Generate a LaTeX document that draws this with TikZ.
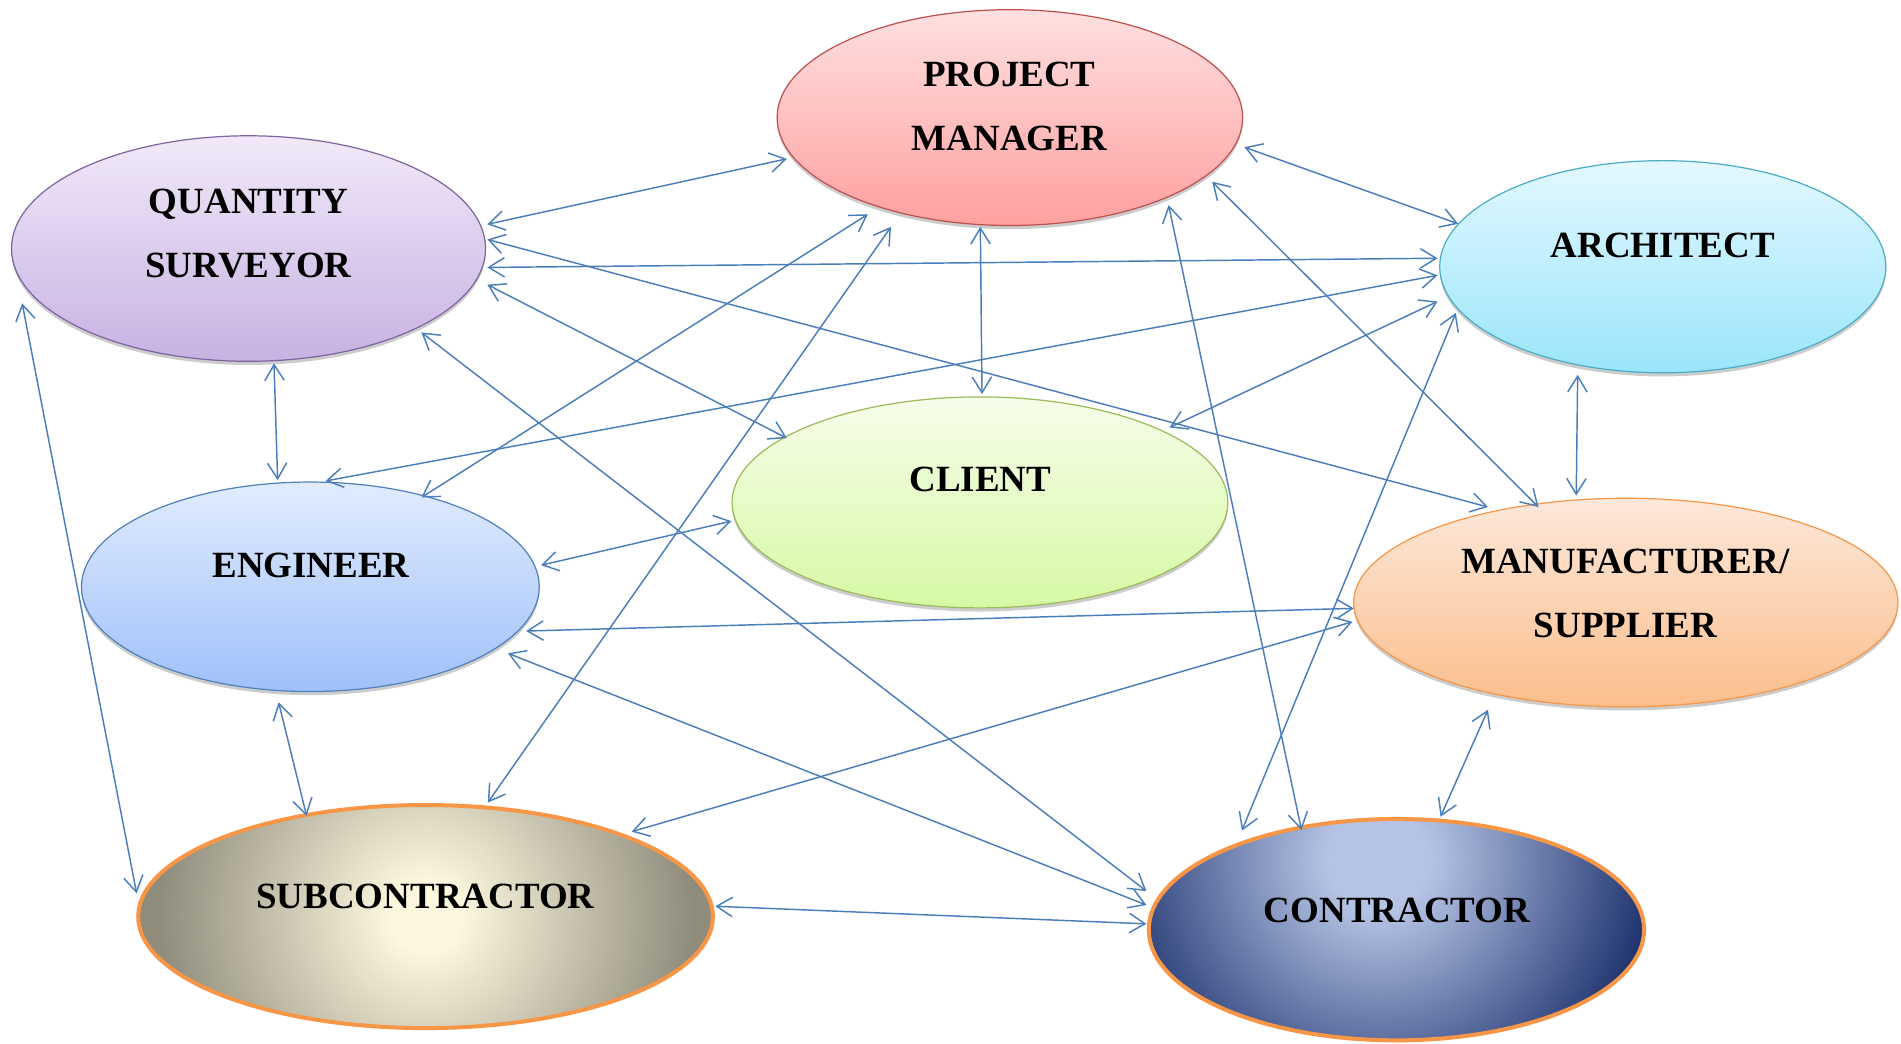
\documentclass[tikz,border=0pt]{standalone}
\usepackage{fontspec}
\setmainfont{Liberation Serif}
\usetikzlibrary{arrows.meta,shapes.geometric,calc,shadows}
\definecolor{linkc}{RGB}{74,126,187}
\definecolor{pmtop}{RGB}{255,224,224}\definecolor{pmbot}{RGB}{255,160,160}\definecolor{pmline}{RGB}{192,80,77}
\definecolor{qstop}{RGB}{241,233,249}\definecolor{qsbot}{RGB}{199,178,226}\definecolor{qsline}{RGB}{128,100,162}
\definecolor{artop}{RGB}{227,248,254}\definecolor{arbot}{RGB}{154,229,251}\definecolor{arline}{RGB}{75,172,198}
\definecolor{cltop}{RGB}{246,253,234}\definecolor{clbot}{RGB}{214,249,164}\definecolor{clline}{RGB}{155,187,89}
\definecolor{entop}{RGB}{225,236,254}\definecolor{enbot}{RGB}{160,192,250}\definecolor{enline}{RGB}{79,129,189}
\definecolor{matop}{RGB}{253,232,218}\definecolor{mabot}{RGB}{251,190,139}\definecolor{maline}{RGB}{247,150,70}
\definecolor{sulight}{RGB}{252,247,222}\definecolor{sudark}{RGB}{143,140,124}
\definecolor{colight}{RGB}{181,196,229}\definecolor{codark}{RGB}{30,50,110}
\definecolor{ringline}{RGB}{247,150,70}
\pgfdeclareradialshading{sushade}{\pgfpoint{0bp}{0bp}}{color(0bp)=(sulight); color(3bp)=(sulight); color(23bp)=(sudark); color(50bp)=(sudark)}
\pgfdeclareradialshading{coshade}{\pgfpoint{0bp}{0bp}}{color(0bp)=(colight); color(3.5bp)=(colight); color(19bp)=(codark); color(50bp)=(codark)}
\begin{document}
\begin{tikzpicture}[x=1pt,y=-1pt,
  bubble/.style={ellipse, inner sep=0pt, outer sep=0pt, line width=1pt},
  shadowed/.style={drop shadow={shadow xshift=0pt, shadow yshift=-3pt, opacity=0.2, fill=black}},
  ring/.style={ellipse, inner sep=0pt, outer sep=0pt, draw=ringline, line width=3.3pt},
  lbl/.style={font=\fontsize{30.5pt}{52.5pt}\selectfont\bfseries, align=center, inner sep=0pt, anchor=base},
  link/.style={draw=linkc, line width=1.2pt, arrows={Straight Barb[length=13pt,width=16pt]-Straight Barb[length=13pt,width=16pt]}}
]
\useasboundingbox (0,0) rectangle (1568,861);
\fill[white] (0,0) rectangle (1568,861);

% filled ellipses
\node[bubble, shadowed, minimum width=384pt, minimum height=178pt, top color=pmtop, bottom color=pmbot, draw=pmline] (pm) at (833,97) {};
\node[bubble, shadowed, minimum width=391pt, minimum height=186pt, top color=qstop, bottom color=qsbot, draw=qsline] (qs) at (205,205) {};
\node[bubble, shadowed, minimum width=368pt, minimum height=175pt, top color=artop, bottom color=arbot, draw=arline] (ar) at (1371.5,220) {};
\node[bubble, shadowed, minimum width=409pt, minimum height=174pt, top color=cltop, bottom color=clbot, draw=clline] (cl) at (808.3,414.4) {};
\node[bubble, shadowed, minimum width=377.6pt, minimum height=172.8pt, top color=entop, bottom color=enbot, draw=enline] (en) at (256,484) {};
\node[bubble, shadowed, minimum width=449pt, minimum height=172pt, top color=matop, bottom color=mabot, draw=maline] (ma) at (1341,497) {};

% radial shaded ellipses
\begin{scope}
  \clip (351,756) ellipse [x radius=237pt, y radius=92pt];
  \shade[shading=sushade] (351,756) circle [radius=240pt];
\end{scope}
\begin{scope}
  \clip (1151.8,766.8) ellipse [x radius=204.3pt, y radius=91.3pt];
  \shade[shading=coshade] (1137,709) circle [radius=300pt];
\end{scope}
\node[ring, minimum width=474pt, minimum height=184pt] (su) at (351,756) {};
\node[ring, minimum width=408.6pt, minimum height=182.6pt] (co) at (1151.8,766.8) {};

% connectors
\draw[link] ($(qs.center)+(197,-20)$) -- ($(pm.center)+(-184,34)$);
\draw[link] ($(qs.center)+(197,15.6)$) -- ($(ar.center)+(-185.8,-7)$);
\draw[link] ($(qs.center)+(197,-7.5)$) -- ($(ma.center)+(-113.7,-78.8)$);
\draw[link] ($(qs.center)+(197,29.8)$) -- ($(cl.center)+(-159.3,-53)$);
\draw[link] ($(qs.center)+(142.6,69.2)$) -- ($(co.center)+(-206.2,-31.8)$);
\draw[link] ($(qs.center)+(21,94.7)$) -- ($(en.center)+(-27,-88)$);
\draw[link] ($(qs.center)+(-186.7,45.2)$) -- ($(su.center)+(-238.3,-19.2)$);
\draw[link] ($(pm.center)+(-117.2,79.8)$) -- ($(en.center)+(91.6,-73.7)$);
\draw[link] ($(pm.center)+(-98.1,90.1)$) -- ($(su.center)+(51.3,-94)$);
\draw[link] ($(pm.center)+(-24.4,90.1)$) -- ($(cl.center)+(1.7,-89.4)$);
\draw[link] ($(pm.center)+(130.9,72.2)$) -- ($(co.center)+(-78.3,-82.2)$);
\draw[link] ($(pm.center)+(193.4,24.4)$) -- ($(ar.center)+(-168.8,-35.4)$);
\draw[link] ($(pm.center)+(166.8,52.9)$) -- ($(ma.center)+(-72,-78.8)$);
\draw[link] ($(ar.center)+(-185.8,7.1)$) -- ($(en.center)+(12.6,-87.3)$);
\draw[link] ($(ar.center)+(-185.8,28.7)$) -- ($(cl.center)+(156.4,-61.8)$);
\draw[link] ($(ar.center)+(-170.7,38.1)$) -- ($(co.center)+(-127.5,-81.7)$);
\draw[link] ($(ar.center)+(-70.2,89.2)$) -- ($(ma.center)+(-40.9,-88.3)$);
\draw[link] ($(cl.center)+(-205,15.4)$) -- ($(en.center)+(190.3,-17.8)$);
\draw[link] ($(ma.center)+(-224.4,4.8)$) -- ($(en.center)+(178,36.5)$);
\draw[link] ($(ma.center)+(-225.5,15.9)$) -- ($(su.center)+(170,-70)$);
\draw[link] ($(ma.center)+(-113.7,88.4)$) -- ($(co.center)+(36.4,-93.2)$);
\draw[link] ($(en.center)+(163,54.9)$) -- ($(co.center)+(-206.2,-20.3)$);
\draw[link] ($(en.center)+(-26.2,95.3)$) -- ($(su.center)+(-98.1,-83)$);
\draw[link] ($(su.center)+(239,-8.5)$) -- ($(co.center)+(-206.2,-4.8)$);

% labels (base = baseline of the last line)
\node[lbl] (pmtext) at (832.5,124.2) {PROJECT\\MANAGER};
\node[lbl] (qstext) at (205,229) {QUANTITY\\SURVEYOR};
\node[lbl] (artext) at (1371.5,212) {ARCHITECT};
\node[lbl] (cltext) at (808.5,405.5) {CLIENT};
\node[lbl] (entext) at (256.5,476.5) {ENGINEER};
\node[lbl] (matext) at (1340.6,525.5) {MANUFACTURER/\\SUPPLIER};
\node[lbl] (sutext) at (351,749.2) {SUBCONTRACTOR};
\node[lbl] (cotext) at (1152.4,761) {CONTRACTOR};
\end{tikzpicture}
\end{document}
